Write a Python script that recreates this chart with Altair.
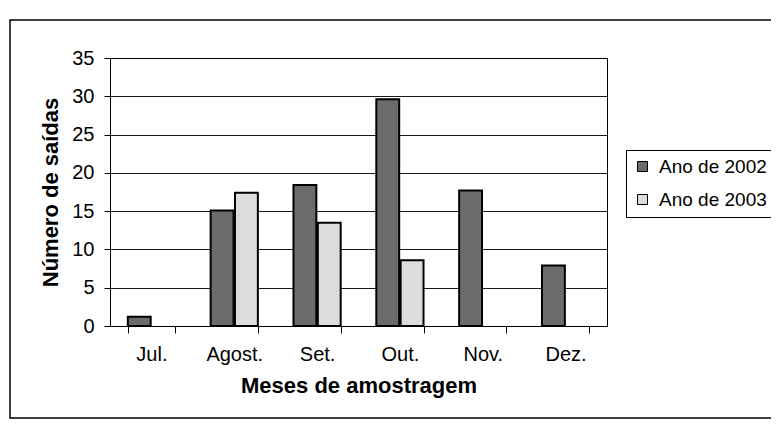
import altair as alt
import pandas as pd

months = ["Jul.", "Agost.", "Set.", "Out.", "Nov.", "Dez."]
series = ["Ano de 2002", "Ano de 2003"]
v2002 = [1.2, 15.1, 18.4, 29.6, 17.7, 7.9]
v2003 = [None, 17.4, 13.5, 8.6, None, None]

rows = []
for m, a, b in zip(months, v2002, v2003):
    if a is not None:
        rows.append({"mes": m, "ano": series[0], "valor": a})
    if b is not None:
        rows.append({"mes": m, "ano": series[1], "valor": b})
df = pd.DataFrame(rows)

FONT = "Liberation Sans"

bars = alt.Chart(df).mark_bar(stroke="black", strokeWidth=2).encode(
    x=alt.X(
        "mes:N",
        sort=months,
        scale=alt.Scale(paddingInner=0.43, paddingOuter=0.215),
        axis=alt.Axis(
            title="Meses de amostragem",
            labelAngle=0,
            tickBand="extent",
            tickSize=7,
            tickColor="black",
            domainColor="black",
            labelPadding=11,
            titlePadding=11,
        ),
    ),
    xOffset=alt.XOffset("ano:N", sort=series, scale=alt.Scale(paddingInner=0.06)),
    y=alt.Y(
        "valor:Q",
        scale=alt.Scale(domain=[0, 35]),
        axis=alt.Axis(
            title="Número de saídas",
            values=[0, 5, 10, 15, 20, 25, 30, 35],
            tickSize=6,
            tickColor="black",
            domainColor="black",
            gridColor="black",
            grid=True,
            labelPadding=10,
            titlePadding=9,
        ),
    ),
    color=alt.Color(
        "ano:N",
        sort=series,
        scale=alt.Scale(domain=series, range=["#6b6b6b", "#dcdcdc"]),
        legend=alt.Legend(
            title=None,
            orient="none",
            legendX=516,
            legendY=92,
            symbolType="square",
            symbolSize=100,
            symbolStrokeColor="black",
            symbolStrokeWidth=1,
            labelFontSize=19,
            labelFont=FONT,
            labelOffset=7,
            rowPadding=13,
            padding=7,
            strokeColor="black",
            labelLimit=300,
        ),
    ),
)

frame = alt.Chart(alt.Data(values=[{"a": 1}])).mark_rect(
    fill=None, stroke="black", strokeWidth=1.5
).encode(
    x=alt.value(-100),
    x2=alt.value(700),
    y=alt.value(-38),
    y2=alt.value(360),
)

chart = alt.layer(frame, bars).properties(
    width=497,
    height=268,
    autosize=alt.AutoSizeParams(type="none"),
    padding={"left": 102, "top": 50, "right": 164, "bottom": 95},
).configure_view(
    stroke="black", strokeWidth=1
).configure_axis(
    labelFont=FONT,
    titleFont=FONT,
    labelFontSize=20,
    titleFontSize=22,
    titleFontWeight="bold",
    labelColor="black",
    titleColor="black",
    gridOpacity=0.9,
).configure_axisX(
    grid=False
)

chart.save("out.html", embed_options={"renderer": "svg", "actions": False})
